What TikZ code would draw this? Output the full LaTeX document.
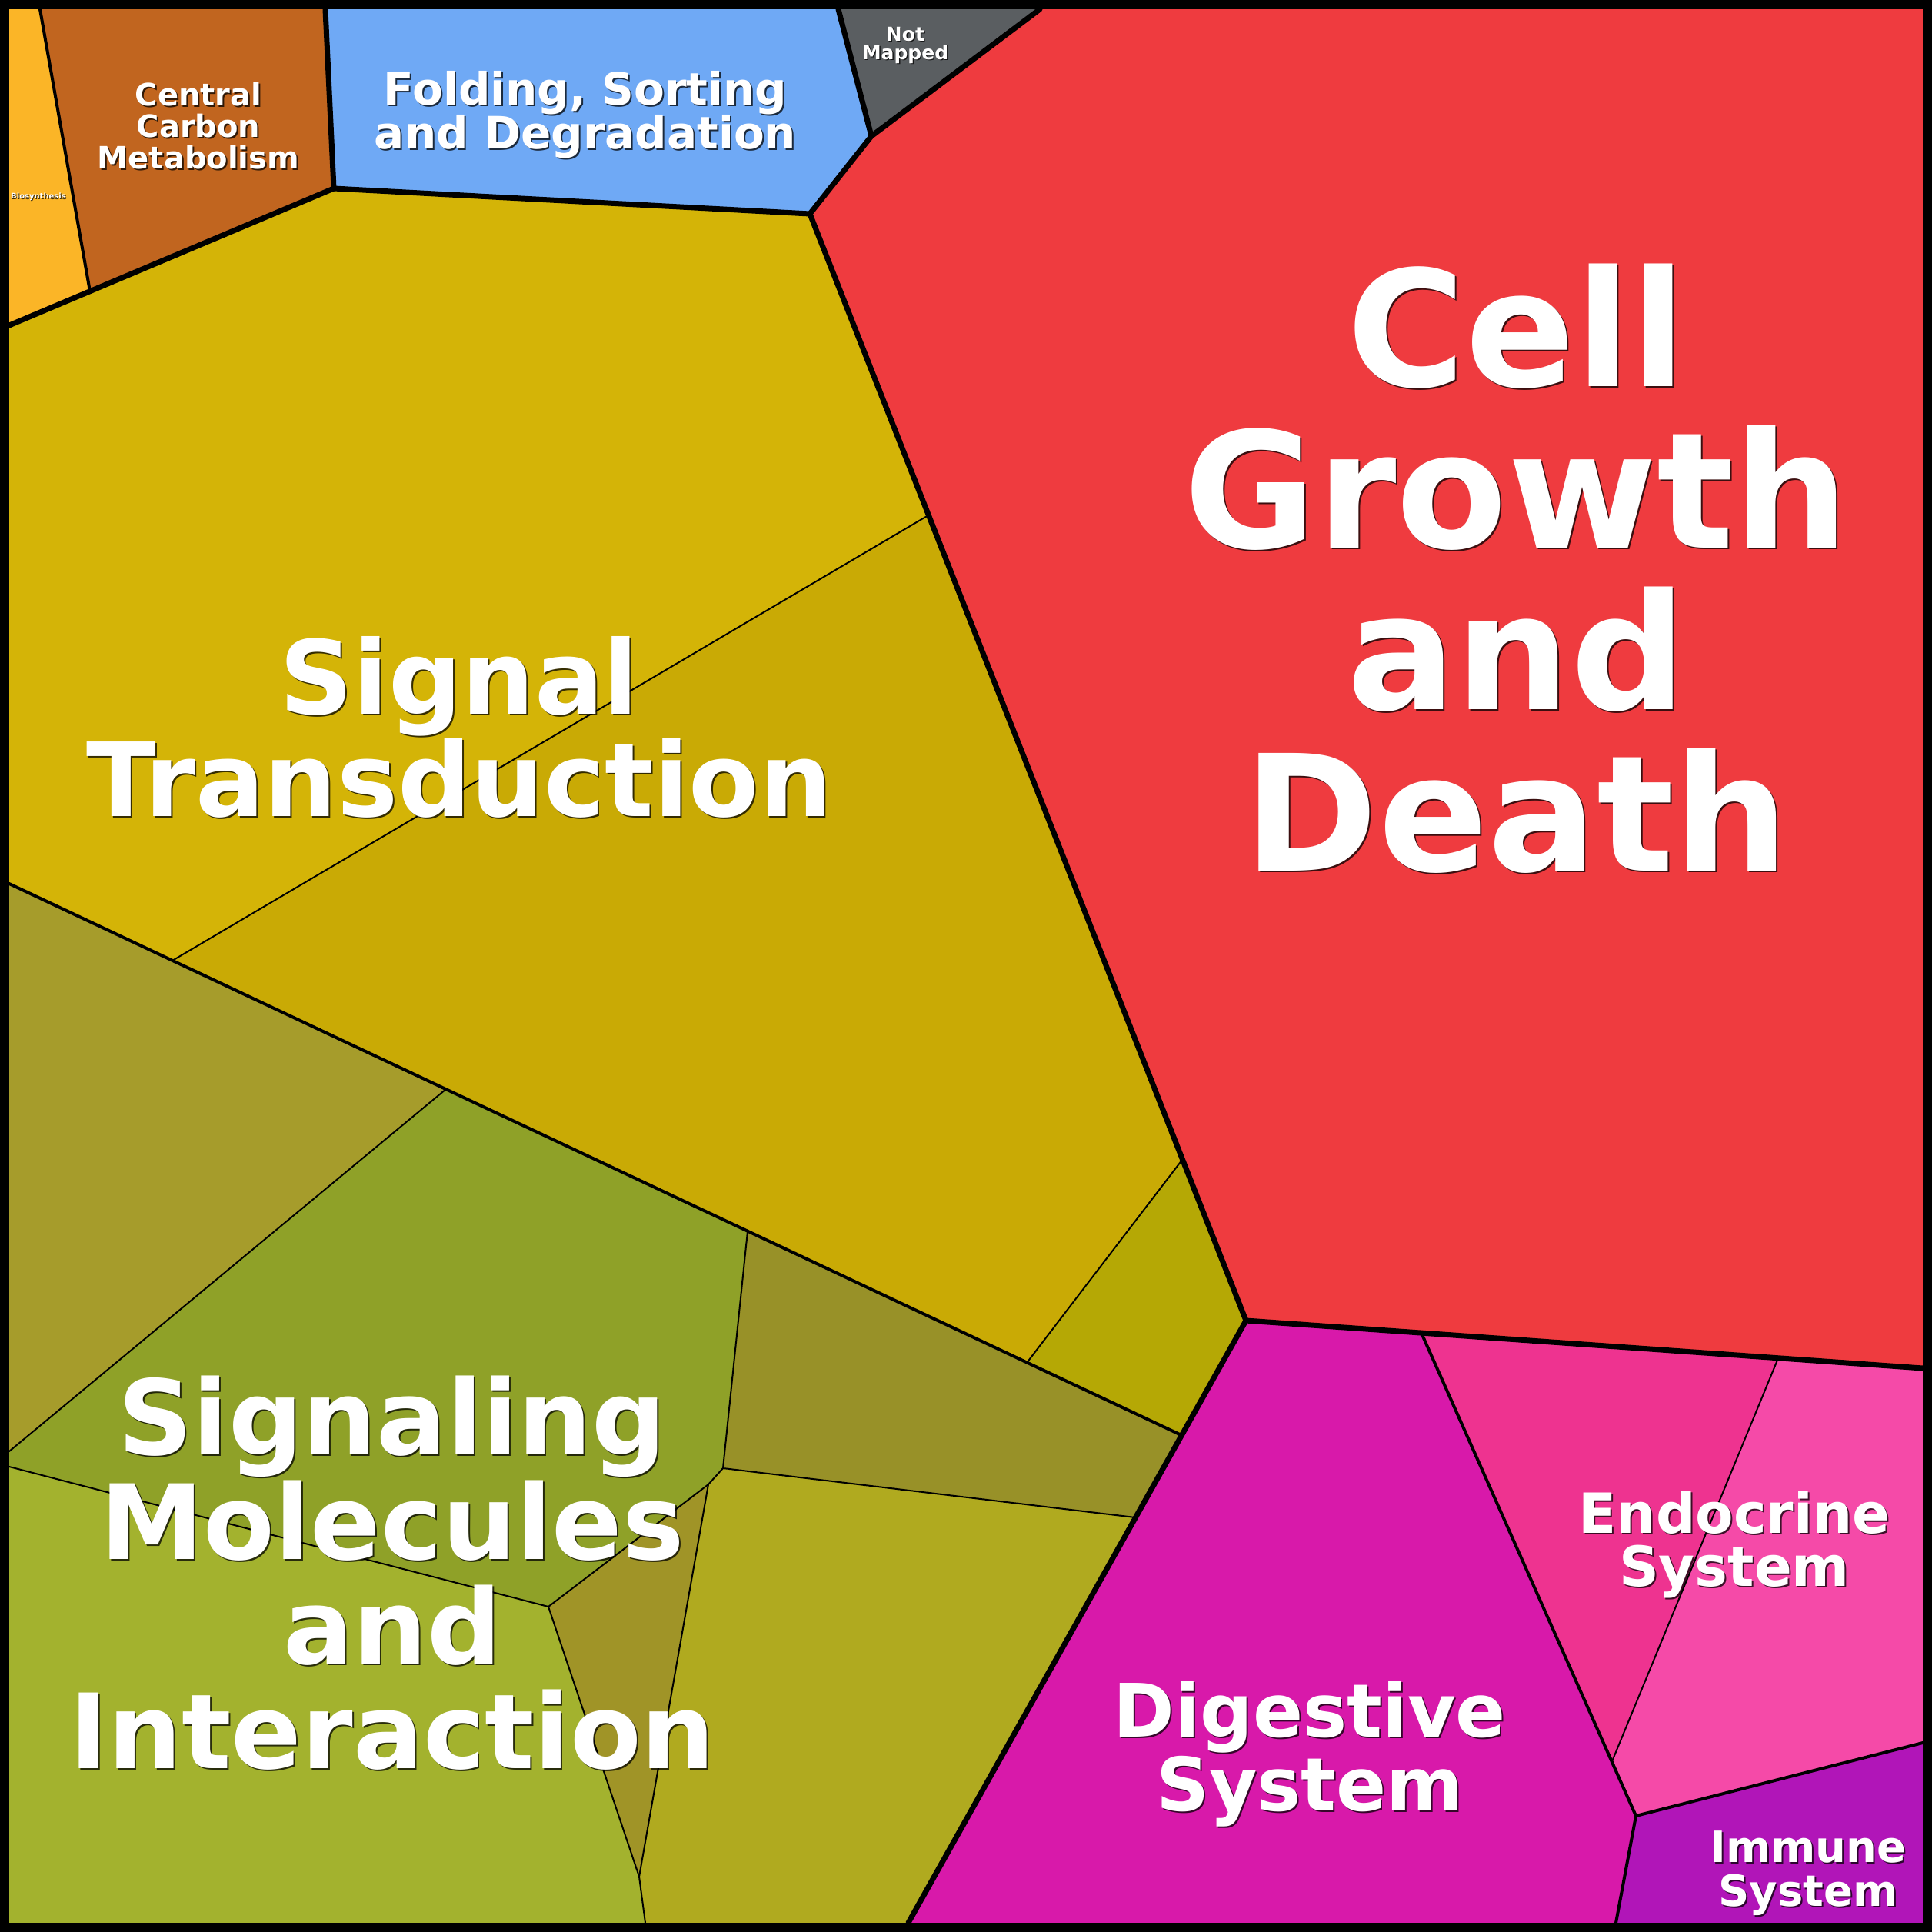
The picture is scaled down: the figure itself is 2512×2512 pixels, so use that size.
\documentclass[tikz,border=0pt]{standalone}
\usepackage{fontspec}
\setmainfont{DejaVu Sans}
\definecolor{cbio}{HTML}{FBB527}
\definecolor{ccc}{HTML}{C1651F}
\definecolor{cfold}{HTML}{6FA9F5}
\definecolor{cnm}{HTML}{5A5E61}
\definecolor{cred}{HTML}{EF3B3F}
\definecolor{csa}{HTML}{D4B407}
\definecolor{csb}{HTML}{C9AA05}
\definecolor{csc}{HTML}{B5A805}
\definecolor{cra}{HTML}{A69C2B}
\definecolor{crb}{HTML}{8FA128}
\definecolor{crc}{HTML}{989128}
\definecolor{crd}{HTML}{A3B22E}
\definecolor{cre}{HTML}{A09427}
\definecolor{crf}{HTML}{B0AA1F}
\definecolor{cdig}{HTML}{D819AA}
\definecolor{cena}{HTML}{EE3390}
\definecolor{cenb}{HTML}{F54AA8}
\definecolor{cimm}{HTML}{B115B8}
\newcommand\stk[1]{\vtop{\lineskiplimit=-\maxdimen\halign{\hfil##\hfil\cr#1\crcr}}}
\def\sho{2}
\newcommand\lbl[6]{%
  \node[lblsh] (#1s) at (#2+\sho,#3+\sho) {\fontsize{#4}{#5}\selectfont\stk{#6}};
  \node[lbl] (#1) at (#2,#3) {\fontsize{#4}{#5}\selectfont\stk{#6}};
}
\tikzset{
  lbl/.style={anchor=base, inner sep=0pt, outer sep=0pt, text=white, font=\bfseries},
  lblsh/.style={anchor=base, inner sep=0pt, outer sep=0pt, text=black, text opacity=0.75, font=\bfseries},
  thinb/.style={line width=2pt, line join=round, line cap=round},
  medb/.style={line width=4pt, line join=round, line cap=round},
  thickb/.style={line width=7pt, line join=round, line cap=round},
}
\begin{document}
\begin{tikzpicture}[x=1pt,y=-1pt]
\useasboundingbox (0,0) rectangle (2512,2512);
% corners
\coordinate (TL) at (12,12);
\coordinate (TR) at (2500,12);
\coordinate (BR) at (2500,2500);
\coordinate (BL) at (12,2500);
% metabolism / genetic
\coordinate (a1) at (52,12);
\coordinate (a2) at (117,379);
\coordinate (a3) at (423,12);
\coordinate (a4) at (434,245);
\coordinate (a5) at (12,423);
\coordinate (b1) at (1090,12);
\coordinate (b2) at (1133,177);
\coordinate (b3) at (1352,12);
\coordinate (b4) at (1053,278);
\coordinate (c1) at (1620,1717);
\coordinate (c2) at (2500,1779);
\coordinate (c3) at (1536,1866);
\coordinate (e1) at (1181,2500);
% environmental
\coordinate (s1) at (1207,670);
\coordinate (s2) at (1537,1508);
\coordinate (s3) at (1335,1772);
\coordinate (m0) at (12,1149);
\coordinate (t1) at (224,1249);
\coordinate (t2) at (580,1416);
\coordinate (t3) at (972,1601);
\coordinate (t4) at (12,1887);
\coordinate (u1) at (940,1909);
\coordinate (u2) at (921,1930);
\coordinate (u3) at (713,2089);
\coordinate (u4) at (12,1907);
\coordinate (u5) at (1476,1973);
\coordinate (u6) at (831,2440);
\coordinate (u7) at (839,2500);
% organismal
\coordinate (o1) at (1848,1733);
\coordinate (o2) at (2312,1766);
\coordinate (o3) at (2127,2361);
\coordinate (o4) at (2101,2500);
\coordinate (o5) at (2096,2290);
\coordinate (o6) at (2500,2266);

% fills
\fill[cbio] (TL) -- (a1) -- (a2) -- (a5) -- cycle;
\fill[ccc] (a1) -- (a3) -- (a4) -- (a2) -- cycle;
\fill[cfold] (a3) -- (b1) -- (b2) -- (b4) -- (a4) -- cycle;
\fill[cnm] (b1) -- (b3) -- (b2) -- cycle;
\fill[cred] (b3) -- (TR) -- (c2) -- (c1) -- (b4) -- (b2) -- cycle;
\fill[csa] (a5) -- (a4) -- (b4) -- (s1) -- (t1) -- (m0) -- cycle;
\fill[csb] (s1) -- (s2) -- (s3) -- (t1) -- cycle;
\fill[csc] (s2) -- (c1) -- (c3) -- (s3) -- cycle;
\fill[cra] (m0) -- (t2) -- (t4) -- cycle;
\fill[crb] (t2) -- (t3) -- (u1) -- (u2) -- (u3) -- (u4) -- (t4) -- cycle;
\fill[crc] (t3) -- (c3) -- (u5) -- (u1) -- cycle;
\fill[crd] (u4) -- (u3) -- (u6) -- (u7) -- (BL) -- cycle;
\fill[cre] (u3) -- (u2) -- (u6) -- cycle;
\fill[crf] (u1) -- (u5) -- (e1) -- (u7) -- (u6) -- (u2) -- cycle;
\fill[cdig] (c1) -- (o1) -- (o3) -- (o4) -- (e1) -- cycle;
\fill[cena] (o1) -- (o2) -- (o5) -- cycle;
\fill[cenb] (o2) -- (c2) -- (o6) -- (o3) -- (o5) -- cycle;
\fill[cimm] (o3) -- (o6) -- (BR) -- (o4) -- cycle;

% thin boundaries
\draw[thinb] (s1) -- (t1);
\draw[thinb] (s2) -- (s3);
\draw[thinb] (t2) -- (t4);
\draw[thinb] (t3) -- (u1) -- (u2) -- (u3) -- (u4);
\draw[thinb] (u1) -- (u5);
\draw[thinb] (u2) -- (u6) -- (u7);
\draw[thinb] (u3) -- (u6);
\draw[thinb] (o2) -- (o5);
% medium boundaries
\draw[medb] (a1) -- (a2);
\draw[medb] (m0) -- (c3);
\draw[medb] (o1) -- (o3) -- (o4);
\draw[medb] (o3) -- (o6);
% thick boundaries
\draw[thickb] (a3) -- (a4) -- (a5);
\draw[thickb] (a4) -- (b4);
\draw[thickb] (b1) -- (b2);
\draw[thickb] (b3) -- (b2) -- (b4) -- (c1) -- (c2);
\draw[thickb] (c1) -- (e1);
% frame
\draw[line width=12pt] (6,6) rectangle (2506,2506);

% labels
\lbl{cgd}{1972}{502}{210}{210}{Cell\cr Growth\cr and\cr Death}
\lbl{st}{597}{928}{133}{133}{Signal\cr Transduction}
\lbl{smi}{510}{1891}{135}{136}{Signaling\cr Molecules\cr and\cr Interaction}
\lbl{fsd}{761}{136}{58}{57}{Folding, Sorting\cr and Degradation}
\lbl{ccm}{258}{137}{40}{41}{Central\cr Carbon\cr Metabolism}
\lbl{dig}{1703}{2258}{96}{96}{Digestive\cr System}
\lbl{end}{2255}{1993}{72}{69}{Endocrine\cr System}
\lbl{imm}{2351}{2421}{56}{57}{Immune\cr System}
\def\sho{1.5}
\lbl{nm}{1177}{53}{25}{24}{Not\cr Mapped}
\def\sho{1}
\lbl{bio}{50}{258}{10}{10}{Biosynthesis}
\end{tikzpicture}
\end{document}
